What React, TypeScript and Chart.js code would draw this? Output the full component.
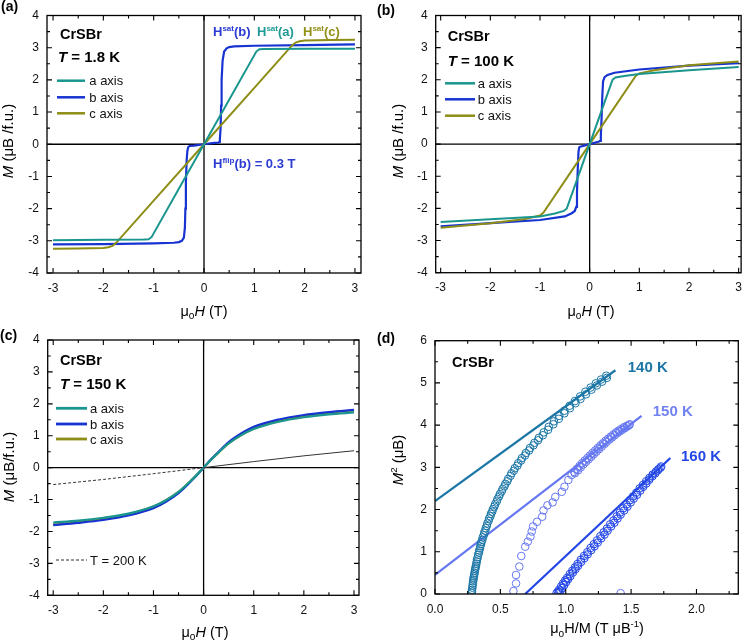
import React, { useEffect, useRef } from "react";
import { Chart, registerables } from "chart.js";

Chart.register(...registerables);

const FONT = '"Liberation Sans", Arial, Helvetica, sans-serif';
Chart.defaults.font.family = FONT;

// ---------- colours ----------
const TEAL = "#1a968f";
const BLUE = "#1733d2";
const OLIVE = "#8e8d16";
const C140 = "#1b76a6";
const C150 = "#6577f0";
const C160 = "#2346e6";

// ---------- panel (a): T = 1.8 K ----------
const A_H_a = [-3, -2, -1.2, -1.1, -1.04, -0.5, 0, 0.5, 1.04, 1.1, 1.2, 2, 3];
const A_M_a = [-2.98, -2.97, -2.96, -2.95, -2.88, -1.38, 0, 1.38, 2.88, 2.95, 2.96, 2.97, 2.97];
const A_H_b = [-3, -2, -1, -0.6, -0.5, -0.44, -0.4, -0.38, -0.37, -0.36, -0.345, -0.33, -0.31, -0.28, -0.2, 0, 0.2, 0.28, 0.3, 0.315, 0.33, 0.34, 0.35, 0.37, 0.4, 0.45, 0.5, 0.6, 1, 2, 3];
const A_M_b = [-3.11, -3.1, -3.08, -3.06, -3.04, -3.0, -2.9, -2.6, -2.0, -1.2, -0.5, -0.2, -0.08, -0.05, -0.04, 0, 0.04, 0.05, 0.07, 0.15, 0.5, 1.2, 2.0, 2.6, 2.88, 2.98, 3.02, 3.04, 3.06, 3.08, 3.1];
const A_H_c = [-3, -2.5, -2, -1.9, -1.82, -1.75, -1, 0, 1, 1.3, 1.75, 1.82, 1.9, 2, 2.5, 3];
const A_M_c = [-3.25, -3.24, -3.22, -3.2, -3.16, -3.07, -1.75, 0, 1.75, 2.28, 3.07, 3.16, 3.2, 3.22, 3.24, 3.25];

// ---------- panel (b): T = 100 K ----------
const B_H_a = [-3, -2, -1, -0.7, -0.52, -0.46, 0, 0.46, 0.52, 0.7, 1, 2, 3];
const B_M_a = [-2.42, -2.34, -2.25, -2.16, -2.08, -2.0, 0, 2.0, 2.07, 2.12, 2.18, 2.3, 2.4];
const B_H_b = [-3, -2, -1, -0.5, -0.36, -0.3, -0.27, -0.255, -0.24, -0.225, -0.21, -0.19, 0, 0.19, 0.21, 0.225, 0.24, 0.255, 0.27, 0.3, 0.36, 0.5, 1, 2, 3];
const B_M_b = [-2.56, -2.46, -2.36, -2.25, -2.15, -2.08, -1.95, -1.5, -0.8, -0.25, -0.1, -0.08, 0, 0.08, 0.1, 0.25, 0.8, 1.5, 1.95, 2.08, 2.15, 2.22, 2.32, 2.44, 2.52];
const B_H_c = [-3, -2, -1.3, -1.0, -0.93, 0, 0.93, 1.0, 1.3, 2, 3];
const B_M_c = [-2.6, -2.46, -2.33, -2.22, -2.13, 0, 2.13, 2.2, 2.3, 2.45, 2.57];

// ---------- panel (c): T = 150 K ----------
const C_H = [-3, -2.5, -2, -1.5, -1, -0.75, -0.5, -0.3, -0.15, 0, 0.15, 0.3, 0.5, 0.75, 1, 1.5, 2, 2.5, 3];
const C_M_a = [-1.72, -1.66, -1.57, -1.44, -1.21, -1.02, -0.76, -0.48, -0.25, 0, 0.25, 0.48, 0.76, 1.02, 1.21, 1.44, 1.58, 1.67, 1.73];
const C_M_b = [-1.8, -1.73, -1.64, -1.5, -1.27, -1.07, -0.8, -0.5, -0.26, 0, 0.26, 0.5, 0.8, 1.07, 1.28, 1.51, 1.65, 1.74, 1.81];
const C_M_c = [-1.78, -1.71, -1.61, -1.46, -1.22, -1.02, -0.76, -0.48, -0.25, 0, 0.25, 0.48, 0.76, 1.02, 1.22, 1.47, 1.62, 1.72, 1.79];
const C_H_200_neg = [-3, -2, -1, 0];
const C_M_200_neg = [-0.53, -0.37, -0.19, 0];
const C_H_200_pos = [0, 1, 2, 3];
const C_M_200_pos = [0, 0.19, 0.37, 0.53];

// ---------- panel (d): Arrott plot (two field-sweep branches each) ----------
const D140_x = [0.28, 0.283, 0.287, 0.291, 0.295, 0.3, 0.305, 0.31, 0.316, 0.322, 0.33, 0.338, 0.346, 0.355, 0.365, 0.376, 0.388, 0.4, 0.414, 0.428, 0.443, 0.46, 0.478, 0.497, 0.517, 0.538, 0.56, 0.585, 0.61, 0.637, 0.665, 0.695, 0.727, 0.76, 0.795, 0.832, 0.87, 0.91, 0.95, 0.99, 1.03, 1.07, 1.11, 1.15, 1.19, 1.23, 1.27, 1.31];
const D140_y = [0.02, 0.1, 0.2, 0.3, 0.38, 0.46, 0.55, 0.63, 0.72, 0.82, 0.93, 1.03, 1.13, 1.23, 1.34, 1.45, 1.56, 1.67, 1.79, 1.9, 2.01, 2.13, 2.25, 2.37, 2.49, 2.61, 2.73, 2.86, 2.98, 3.1, 3.22, 3.34, 3.46, 3.58, 3.7, 3.83, 3.96, 4.09, 4.22, 4.34, 4.46, 4.57, 4.68, 4.79, 4.89, 4.99, 5.08, 5.17];
const D140b_x = [0.282, 0.286, 0.29, 0.294, 0.298, 0.303, 0.308, 0.314, 0.32, 0.327, 0.336, 0.344, 0.352, 0.362, 0.373, 0.384, 0.396, 0.41, 0.424, 0.438, 0.454, 0.472, 0.49, 0.51, 0.531, 0.553, 0.578, 0.603, 0.63, 0.658, 0.688, 0.72, 0.753, 0.788, 0.825, 0.865, 0.905, 0.947, 0.99, 1.032, 1.075, 1.113, 1.155, 1.197, 1.238, 1.278, 1.315];
const D140b_y = [0.06, 0.15, 0.25, 0.34, 0.42, 0.5, 0.59, 0.67, 0.77, 0.87, 0.98, 1.08, 1.18, 1.28, 1.39, 1.5, 1.61, 1.73, 1.84, 1.95, 2.07, 2.19, 2.31, 2.43, 2.55, 2.67, 2.8, 2.92, 3.04, 3.16, 3.28, 3.4, 3.52, 3.64, 3.76, 3.89, 4.02, 4.15, 4.28, 4.4, 4.52, 4.62, 4.73, 4.84, 4.94, 5.03, 5.12];
const D150_x = [0.6, 0.62, 0.62, 0.645, 0.66, 0.69, 0.71, 0.73, 0.74, 0.75, 0.78, 0.82, 0.83, 0.86, 0.9, 0.92, 0.97, 0.99, 1.02, 1.045, 1.065, 1.085, 1.105, 1.125, 1.145, 1.165, 1.185, 1.205, 1.225, 1.245, 1.265, 1.285, 1.305, 1.325, 1.345, 1.365, 1.385, 1.405, 1.425, 1.445, 1.465, 1.49, 1.42];
const D150_y = [0.07, 0.25, 0.45, 0.65, 0.9, 1.12, 1.24, 1.36, 1.48, 1.6, 1.71, 1.83, 1.98, 2.1, 2.17, 2.3, 2.42, 2.54, 2.7, 2.82, 2.89, 2.96, 3.03, 3.1, 3.16, 3.22, 3.28, 3.34, 3.4, 3.46, 3.52, 3.57, 3.63, 3.68, 3.73, 3.78, 3.83, 3.87, 3.91, 3.95, 3.98, 4.02, 0.02];
const D150b_x = [1.07, 1.095, 1.115, 1.135, 1.155, 1.175, 1.195, 1.215, 1.235, 1.255, 1.275, 1.295, 1.313, 1.335, 1.355, 1.375, 1.395, 1.413, 1.433, 1.453, 1.473, 1.485];
const D150b_y = [2.86, 2.93, 3.0, 3.07, 3.13, 3.19, 3.25, 3.31, 3.37, 3.43, 3.49, 3.55, 3.6, 3.66, 3.71, 3.76, 3.81, 3.85, 3.89, 3.93, 3.97, 4.0];
const D160_x = [0.93, 0.94, 0.95, 0.965, 0.98, 0.995, 1.01, 1.03, 1.05, 1.07, 1.09, 1.115, 1.14, 1.165, 1.19, 1.215, 1.24, 1.265, 1.29, 1.315, 1.34, 1.365, 1.39, 1.415, 1.44, 1.465, 1.49, 1.515, 1.54, 1.565, 1.59, 1.615, 1.64, 1.665, 1.69, 1.71, 1.73];
const D160_y = [0.02, 0.06, 0.1, 0.18, 0.25, 0.32, 0.38, 0.47, 0.55, 0.63, 0.71, 0.81, 0.9, 0.99, 1.09, 1.18, 1.27, 1.37, 1.46, 1.55, 1.65, 1.74, 1.84, 1.93, 2.03, 2.12, 2.22, 2.31, 2.4, 2.5, 2.58, 2.67, 2.75, 2.83, 2.9, 2.96, 3.02];
const D160b_x = [0.95, 0.96, 0.973, 0.988, 1.003, 1.018, 1.035, 1.055, 1.075, 1.095, 1.118, 1.143, 1.168, 1.195, 1.22, 1.245, 1.272, 1.297, 1.32, 1.347, 1.372, 1.397, 1.42, 1.447, 1.472, 1.497, 1.52, 1.545, 1.57, 1.593, 1.617, 1.64, 1.663, 1.685, 1.705, 1.725];
const D160b_y = [0.04, 0.08, 0.14, 0.21, 0.28, 0.35, 0.42, 0.51, 0.59, 0.67, 0.76, 0.85, 0.94, 1.04, 1.13, 1.22, 1.32, 1.41, 1.5, 1.6, 1.69, 1.79, 1.88, 1.98, 2.07, 2.17, 2.26, 2.35, 2.45, 2.54, 2.62, 2.71, 2.79, 2.86, 2.93, 2.99];
const D140_fitX = [0, 1.38];
const D140_fitY = [2.2, 5.3];
const D150_fitX = [0, 1.58];
const D150_fitY = [0.45, 4.22];
const D160_fitX = [0.69, 1.8];
const D160_fitY = [0, 3.22];

// ---------- helpers ----------
type Seg = { t: string; b?: boolean; i?: boolean; s?: number; dy?: number };

function drawRich(ctx: CanvasRenderingContext2D, segs: Seg[], x: number, y: number, size: number, color: string, align: "left" | "center" = "left") {
  const fontOf = (sg: Seg) => `${sg.i ? "italic " : ""}${sg.b ? "bold " : ""}${(sg.s ?? 1) * size}px ${FONT}`;
  let total = 0;
  for (const sg of segs) {
    ctx.font = fontOf(sg);
    total += ctx.measureText(sg.t).width;
  }
  let cx = align === "center" ? x - total / 2 : x;
  ctx.fillStyle = color;
  ctx.textBaseline = "alphabetic";
  ctx.textAlign = "left";
  for (const sg of segs) {
    ctx.font = fontOf(sg);
    ctx.fillText(sg.t, cx, y + (sg.dy ?? 0) * size);
    cx += ctx.measureText(sg.t).width;
  }
}

function drawRotated(ctx: CanvasRenderingContext2D, segs: Seg[], x: number, y: number, size: number) {
  ctx.save();
  ctx.translate(x, y);
  ctx.rotate(-Math.PI / 2);
  drawRich(ctx, segs, 0, 0, size, "#000", "center");
  ctx.restore();
}

type LegendItem = { label: string; color: string; y: number; dash?: number[]; width?: number };

function drawLegend(ctx: CanvasRenderingContext2D, items: LegendItem[], x0: number, x1: number, tx: number) {
  for (const it of items) {
    ctx.save();
    ctx.strokeStyle = it.color;
    ctx.lineWidth = it.width ?? 2.5;
    ctx.setLineDash(it.dash ?? []);
    ctx.beginPath();
    ctx.moveTo(x0, it.y);
    ctx.lineTo(x1, it.y);
    ctx.stroke();
    ctx.restore();
    drawRich(ctx, [{ t: it.label }], tx, it.y + 4.6, 13, "#111");
  }
}

const pts = (xs: number[], ys: number[]) => xs.map((x, i) => ({ x, y: ys[i] }));

const line = (xs: number[], ys: number[], color: string, width = 2, extra: any = {}) => ({
  data: pts(xs, ys),
  showLine: true,
  borderColor: color,
  backgroundColor: color,
  borderWidth: width,
  pointRadius: 0,
  tension: 0,
  ...extra,
});

const circles = (xs: number[], ys: number[], color: string) => ({
  data: pts(xs, ys),
  showLine: false,
  borderColor: color,
  backgroundColor: "rgba(0,0,0,0)",
  pointRadius: 3.8,
  pointBorderWidth: 1,
  pointBorderColor: color,
  pointBackgroundColor: "rgba(0,0,0,0)",
});

interface PanelSpec {
  left: number; top: number; w: number; h: number;
  yAxisW: number; xAxisH: number; padTop: number; padRight: number;
  xMin: number; xMax: number; xStep: number; xMinor: number;
  yMin: number; yMax: number; yStep: number; yMinor: number;
  xFmt: (v: number) => string;
  zeroLines: boolean;
  datasets: any[];
  draw: (ctx: CanvasRenderingContext2D) => void;
}

function makePlugin(spec: PanelSpec) {
  return {
    id: "frame",
    beforeDatasetsDraw(chart: any) {
      if (!spec.zeroLines) return;
      const { ctx, chartArea: a, scales } = chart;
      const x0 = scales.x.getPixelForValue(0);
      const y0 = scales.y.getPixelForValue(0);
      ctx.save();
      ctx.strokeStyle = "#000";
      ctx.lineWidth = 1.3;
      ctx.beginPath();
      ctx.moveTo(x0, a.top);
      ctx.lineTo(x0, a.bottom);
      ctx.moveTo(a.left, y0);
      ctx.lineTo(a.right, y0);
      ctx.stroke();
      ctx.restore();
    },
    afterDatasetsDraw(chart: any) {
      const { ctx, chartArea: a, scales } = chart;
      ctx.save();
      ctx.strokeStyle = "#000";
      ctx.lineWidth = 1.3;
      ctx.strokeRect(a.left, a.top, a.right - a.left, a.bottom - a.top);
      ctx.lineWidth = 1.1;
      ctx.beginPath();
      const eps = 1e-6;
      for (let v = Math.ceil((spec.xMin - eps) / spec.xMinor) * spec.xMinor; v <= spec.xMax + eps; v += spec.xMinor) {
        const isMajor = Math.abs(v / spec.xStep - Math.round(v / spec.xStep)) < 1e-4;
        const len = isMajor ? 5 : 3;
        const px = scales.x.getPixelForValue(v);
        ctx.moveTo(px, a.bottom);
        ctx.lineTo(px, a.bottom - len);
        ctx.moveTo(px, a.top);
        ctx.lineTo(px, a.top + len);
      }
      for (let v = Math.ceil((spec.yMin - eps) / spec.yMinor) * spec.yMinor; v <= spec.yMax + eps; v += spec.yMinor) {
        const isMajor = Math.abs(v / spec.yStep - Math.round(v / spec.yStep)) < 1e-4;
        const len = isMajor ? 5 : 3;
        const py = scales.y.getPixelForValue(v);
        ctx.moveTo(a.left, py);
        ctx.lineTo(a.left + len, py);
        ctx.moveTo(a.right, py);
        ctx.lineTo(a.right - len, py);
      }
      ctx.stroke();
      ctx.restore();
    },
    afterDraw(chart: any) {
      const ctx = chart.ctx as CanvasRenderingContext2D;
      ctx.save();
      spec.draw(ctx);
      ctx.restore();
    },
  };
}

function buildConfig(spec: PanelSpec): any {
  const tickFont = { size: 12, family: FONT };
  return {
    type: "scatter",
    data: { datasets: spec.datasets },
    options: {
      animation: false,
      responsive: false,
      events: [],
      layout: { padding: { top: spec.padTop, right: spec.padRight, left: 0, bottom: 0 } },
      plugins: { legend: { display: false }, tooltip: { enabled: false }, title: { display: false } },
      scales: {
        x: {
          type: "linear",
          position: "bottom",
          min: spec.xMin,
          max: spec.xMax,
          afterFit: (s: any) => { s.height = spec.xAxisH; },
          grid: { display: false, drawTicks: false },
          border: { display: false },
          ticks: {
            stepSize: spec.xStep, includeBounds: false, autoSkip: false, maxRotation: 0, minRotation: 0,
            padding: 8, color: "#111", font: tickFont,
            callback: (v: any) => spec.xFmt(Number(v)),
          },
        },
        y: {
          type: "linear",
          position: "left",
          min: spec.yMin,
          max: spec.yMax,
          afterFit: (s: any) => { s.width = spec.yAxisW; },
          grid: { display: false, drawTicks: false },
          border: { display: false },
          ticks: {
            stepSize: spec.yStep, includeBounds: false, autoSkip: false,
            padding: 8, color: "#111", font: tickFont,
            callback: (v: any) => String(Number(v)),
          },
        },
      },
    },
    plugins: [makePlugin(spec)],
  };
}

function Panel({ spec }: { spec: PanelSpec }) {
  const ref = useRef<HTMLCanvasElement>(null);
  useEffect(() => {
    const chart = new Chart(ref.current as HTMLCanvasElement, buildConfig(spec));
    return () => chart.destroy();
  }, []);
  return (
    <canvas
      ref={ref}
      width={spec.w}
      height={spec.h}
      style={{ position: "absolute", left: spec.left, top: spec.top, width: spec.w, height: spec.h }}
    />
  );
}

const intFmt = (v: number) => String(v);
const muH: Seg[] = [{ t: "μ" }, { t: "o", s: 0.7, dy: 0.25 }, { t: "H", i: true }, { t: " (T)" }];
const yTitleAB: Seg[] = [{ t: "M", i: true }, { t: " (μB /f.u.)" }];
const yTitleC: Seg[] = [{ t: "M", i: true }, { t: " (μB/f.u.)" }];
const sup = (t: string): Seg => ({ t, b: true, s: 0.62, dy: -0.42 });

const specA: PanelSpec = {
  left: 0, top: 0, w: 375, h: 320,
  yAxisW: 47, xAxisH: 47, padTop: 15.5, padRight: 14,
  xMin: -3.12, xMax: 3.12, xStep: 1, xMinor: 0.5,
  yMin: -4, yMax: 4, yStep: 1, yMinor: 0.5,
  xFmt: intFmt, zeroLines: true,
  datasets: [
    line(A_H_a, A_M_a, TEAL, 2),
    line(A_H_c, A_M_c, OLIVE, 2),
    line(A_H_b, A_M_b, BLUE, 2.2),
  ],
  draw: (ctx) => {
    drawRich(ctx, [{ t: "(a)", b: true }], 1, 11, 14, "#000");
    drawRich(ctx, [{ t: "CrSBr", b: true }], 60, 38.5, 14.5, "#000");
    drawRich(ctx, [{ t: "T", b: true, i: true }, { t: " = 1.8 K", b: true }], 58, 62, 15, "#000");
    drawLegend(ctx, [
      { label: "a axis", color: TEAL, y: 80.7 },
      { label: "b axis", color: BLUE, y: 97.3 },
      { label: "c axis", color: OLIVE, y: 113.3 },
    ], 57, 85, 89.3);
    drawRich(ctx, [{ t: "H", b: true }, sup("sat"), { t: "(b)", b: true }], 213, 36, 13, "#2b3bd4");
    drawRich(ctx, [{ t: "H", b: true }, sup("sat"), { t: "(a)", b: true }], 257, 36, 13, "#1f9a94");
    drawRich(ctx, [{ t: "H", b: true }, sup("sat"), { t: "(c)", b: true }], 303, 36, 13, "#93901a");
    drawRich(ctx, [{ t: "H", b: true }, sup("flip"), { t: "(b) = 0.3 T", b: true }], 213, 168, 13, "#2b3bd4");
    drawRich(ctx, muH, 204, 315.5, 14.5, "#000", "center");
    drawRotated(ctx, yTitleAB, 13, 141, 15);
  },
};

const specB: PanelSpec = {
  left: 375, top: 0, w: 375, h: 320,
  yAxisW: 60.7, xAxisH: 47.3, padTop: 15.5, padRight: 3,
  xMin: -3.1, xMax: 3.05, xStep: 1, xMinor: 0.5,
  yMin: -4, yMax: 4, yStep: 1, yMinor: 0.5,
  xFmt: intFmt, zeroLines: true,
  datasets: [
    line(B_H_a, B_M_a, TEAL, 2),
    line(B_H_c, B_M_c, OLIVE, 2),
    line(B_H_b, B_M_b, BLUE, 2.2),
  ],
  draw: (ctx) => {
    drawRich(ctx, [{ t: "(b)", b: true }], 2, 15, 14, "#000");
    drawRich(ctx, [{ t: "CrSBr", b: true }], 72.7, 41, 14.5, "#000");
    drawRich(ctx, [{ t: "T", b: true, i: true }, { t: " = 100 K", b: true }], 72.7, 65.5, 15, "#000");
    drawLegend(ctx, [
      { label: "a axis", color: TEAL, y: 83.3 },
      { label: "b axis", color: BLUE, y: 99.3 },
      { label: "c axis", color: OLIVE, y: 115.7 },
    ], 70, 100, 102.7);
    drawRich(ctx, muH, 216, 315.5, 14.5, "#000", "center");
    drawRotated(ctx, yTitleAB, 28, 141, 15);
  },
};

const specC: PanelSpec = {
  left: 0, top: 320, w: 375, h: 323,
  yAxisW: 47.7, xAxisH: 47.7, padTop: 20, padRight: 16,
  xMin: -3.11, xMax: 3.1, xStep: 1, xMinor: 0.5,
  yMin: -4, yMax: 4, yStep: 1, yMinor: 0.5,
  xFmt: intFmt, zeroLines: true,
  datasets: [
    line(C_H_200_neg, C_M_200_neg, "#333", 1, { borderDash: [3, 2] }),
    line(C_H_200_pos, C_M_200_pos, "#333", 1),
    line(C_H, C_M_a, TEAL, 2.2, { cubicInterpolationMode: "monotone" }),
    line(C_H, C_M_b, BLUE, 2.2, { cubicInterpolationMode: "monotone" }),
    line(C_H, C_M_c, OLIVE, 2.2, { cubicInterpolationMode: "monotone" }),
  ],
  draw: (ctx) => {
    drawRich(ctx, [{ t: "(c)", b: true }], 0, 20, 14, "#000");
    drawRich(ctx, [{ t: "CrSBr", b: true }], 60, 45, 14.5, "#000");
    drawRich(ctx, [{ t: "T", b: true, i: true }, { t: " = 150 K", b: true }], 60, 69, 15, "#000");
    drawLegend(ctx, [
      { label: "a axis", color: TEAL, y: 88.3, width: 2.8 },
      { label: "b axis", color: BLUE, y: 104, width: 2.8 },
      { label: "c axis", color: OLIVE, y: 119, width: 2.8 },
      { label: "T = 200 K", color: "#333", y: 240, dash: [3, 2], width: 1 },
    ], 56, 87, 90);
    drawRich(ctx, muH, 205, 316.5, 14.5, "#000", "center");
    drawRotated(ctx, yTitleC, 14, 147, 15);
  },
};

const specD: PanelSpec = {
  left: 375, top: 320, w: 375, h: 323,
  yAxisW: 60, xAxisH: 49, padTop: 20.7, padRight: 11.7,
  xMin: 0, xMax: 2.32, xStep: 0.5, xMinor: 0.25,
  yMin: 0, yMax: 6, yStep: 1, yMinor: 0.5,
  xFmt: (v) => v.toFixed(1), zeroLines: false,
  datasets: [
    circles(D140_x, D140_y, C140),
    circles(D140b_x, D140b_y, C140),
    circles(D150_x, D150_y, C150),
    circles(D150b_x, D150b_y, C150),
    circles(D160_x, D160_y, C160),
    circles(D160b_x, D160b_y, C160),
    line(D140_fitX, D140_fitY, C140, 2.2),
    line(D150_fitX, D150_fitY, C150, 2.2),
    line(D160_fitX, D160_fitY, C160, 2.2),
  ],
  draw: (ctx) => {
    drawRich(ctx, [{ t: "(d)", b: true }], 2, 23, 14, "#000");
    drawRich(ctx, [{ t: "CrSBr", b: true }], 77, 46.5, 14.5, "#000");
    drawRich(ctx, [{ t: "140 K", b: true }], 252.7, 52, 15, C140);
    drawRich(ctx, [{ t: "150 K", b: true }], 277.7, 95.5, 15, "#7282f2");
    drawRich(ctx, [{ t: "160 K", b: true }], 306, 140.5, 15, C160);
    drawRich(ctx, [{ t: "μ" }, { t: "o", s: 0.7, dy: 0.25 }, { t: "H/M (T μB" }, { t: "-1", s: 0.65, dy: -0.42 }, { t: ")" }], 222, 313, 14.5, "#000", "center");
    drawRotated(ctx, [{ t: "M", i: true }, { t: "2", s: 0.65, dy: -0.42 }, { t: " (μB)" }], 28, 140, 15);
  },
};

export default function App() {
  return (
    <div style={{ position: "absolute", left: 0, top: 0, width: 750, height: 643, background: "#fff", overflow: "hidden" }}>
      <Panel spec={specA} />
      <Panel spec={specB} />
      <Panel spec={specC} />
      <Panel spec={specD} />
    </div>
  );
}
